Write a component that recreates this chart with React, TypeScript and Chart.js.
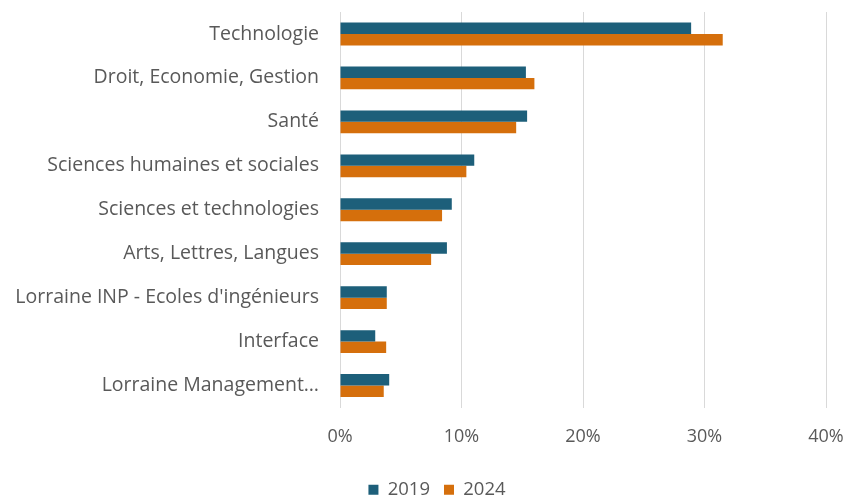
import React, { useEffect, useRef } from "react";
import { Chart, registerables } from "chart.js";

Chart.register(...registerables);

const categories = [
  "Technologie",
  "Droit, Economie, Gestion",
  "Santé",
  "Sciences humaines et sociales",
  "Sciences et technologies",
  "Arts, Lettres, Langues",
  "Lorraine INP - Ecoles d'ingénieurs",
  "Interface",
  "Lorraine Management…",
];

const values2019 = [28.9, 15.3, 15.4, 11.05, 9.2, 8.8, 3.85, 2.9, 4.05];
const values2024 = [31.5, 16.0, 14.5, 10.4, 8.4, 7.5, 3.85, 3.8, 3.6];

const seriesLabels = ["2019", "2024"];
const xTicks = [0, 10, 20, 30, 40];

const FONT = "'Open Sans'";
const TEXT = "#595959";

const legendShift = {
  id: "legendShift",
  afterLayout(chart: any) {
    const l = chart.legend;
    if (!l) return;
    l.left += 24;
    l.right += 24;
    l.top += 8;
    l.bottom += 8;
  },
};

export default function App() {
  const ref = useRef<HTMLCanvasElement | null>(null);

  useEffect(() => {
    if (!ref.current) return;
    const chart = new Chart(ref.current, {
      type: "bar",
      data: {
        labels: categories,
        datasets: [
          {
            label: seriesLabels[0],
            data: values2019,
            backgroundColor: "#1D5F7A",
            barPercentage: 1,
            categoryPercentage: 0.52,
          },
          {
            label: seriesLabels[1],
            data: values2024,
            backgroundColor: "#D56F0C",
            barPercentage: 1,
            categoryPercentage: 0.52,
          },
        ],
      },
      plugins: [legendShift],
      options: {
        indexAxis: "y",
        animation: false,
        responsive: false,
        layout: { padding: { left: 0, right: 23, top: 12, bottom: 0 } },
        plugins: {
          tooltip: { enabled: false },
          legend: {
            position: "bottom",
            labels: {
              boxWidth: 10,
              boxHeight: 10,
              padding: 14,
              color: TEXT,
              font: { family: FONT, size: 18.5 },
            },
          },
        },
        scales: {
          x: {
            min: 0,
            max: 40,
            afterBuildTicks: (scale: any) => {
              scale.ticks = xTicks.map((v) => ({ value: v }));
            },
            afterFit: (scale: any) => {
              scale.height = 51;
              scale.paddingLeft = 0;
              scale.paddingRight = 0;
              scale.paddingTop = 0;
              scale.paddingBottom = 0;
            },
            ticks: {
              padding: 19,
              color: TEXT,
              font: { family: FONT, size: 18 },
              callback: (v: any) => v + "%",
            },
            grid: { color: "#D9D9D9", drawTicks: false },
            border: { display: false },
          },
          y: {
            afterFit: (scale: any) => {
              scale.width = 340;
              scale.paddingLeft = 0;
              scale.paddingRight = 0;
              scale.paddingTop = 0;
              scale.paddingBottom = 0;
            },
            ticks: {
              padding: 21,
              color: TEXT,
              font: { family: FONT, size: 19.5 },
              autoSkip: false,
            },
            grid: { display: false, drawTicks: false },
            border: { display: false },
          },
        },
      },
    });
    return () => chart.destroy();
  }, []);

  return (
    <div style={{ position: "absolute", left: 0, top: 0, width: 849, height: 501, background: "#fff" }}>
      <canvas ref={ref} width={849} height={501} />
    </div>
  );
}
